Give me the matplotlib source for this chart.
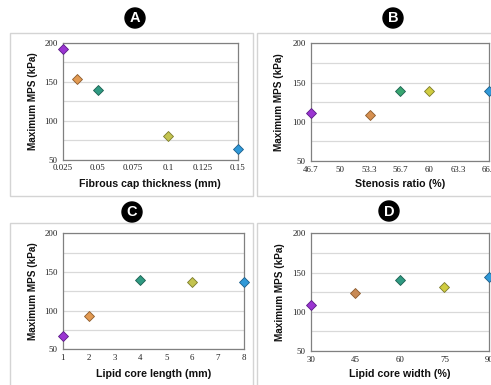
import matplotlib
matplotlib.use("Agg")
import matplotlib.pyplot as plt
from matplotlib.patches import Rectangle, Ellipse
from matplotlib.ticker import FixedLocator

W, H = 491, 385

# ---- data ----
a_x = [0.025, 0.035, 0.05, 0.1, 0.15]
a_y = [192, 153, 139, 80, 63]
b_x = [46.7, 53.3, 56.7, 60, 66.7]
b_y = [111, 109, 139, 139, 139]
c_x = [1, 2, 4, 6, 8]
c_y = [67, 93, 140, 137, 137]
d_x = [30, 45, 60, 75, 90]
d_y = [109, 124, 140, 132, 144]

a_ticks = [0.025, 0.05, 0.075, 0.1, 0.125, 0.15]
a_ticklabels = ["0.025", "0.05", "0.075", "0.1", "0.125", "0.15"]
b_ticks = [46.7, 50, 53.3, 56.7, 60, 63.3, 66.7]
b_ticklabels = ["46.7", "50", "53.3", "56.7", "60", "63.3", "66.7"]
c_ticks = [1, 2, 3, 4, 5, 6, 7, 8]
c_ticklabels = ["1", "2", "3", "4", "5", "6", "7", "8"]
d_ticks = [30, 45, 60, 75, 90]
d_ticklabels = ["30", "45", "60", "75", "90"]

y_major = [50, 100, 150, 200]
y_minor = [75, 125, 175]

xlabels = ["Fibrous cap thickness (mm)", "Stenosis ratio (%)",
           "Lipid core length (mm)", "Lipid core width (%)"]
ylabel = "Maximum MPS (kPa)"
letters = ["A", "B", "C", "D"]

face_A = ["#9b35d2", "#e29a52", "#2f9a82", "#c4c450", "#3099d8"]
edge_A = ["#5b1c86", "#8c5a2c", "#1c5e50", "#7a7a2c", "#1c5e8a"]
face_B = ["#9b35d2", "#d69050", "#38a670", "#d0cc40", "#3099d8"]
face_D = ["#9b35d2", "#c88a55", "#2f9a82", "#d0cc40", "#3099d8"]

fig = plt.figure(figsize=(W / 100, H / 100), dpi=100)
fig.patch.set_facecolor("white")


def rect(l, r, t, b):
    return [l / W, 1 - b / H, (r - l) / W, (b - t) / H]


# outer gray boxes
for (l, r, t, b) in [(10, 253, 33, 196), (257, 500, 33, 196),
                     (10, 253, 223, 392), (257, 500, 223, 392)]:
    fig.add_artist(Rectangle((l / W, 1 - b / H), (r - l) / W, (b - t) / H,
                             transform=fig.transFigure, fill=False,
                             edgecolor="#d4d4d4", linewidth=1.0))

panels = [
    (rect(62.7, 238, 42.7, 159.5), a_x, a_y, a_ticks, a_ticklabels, face_A, 33, 184),
    (rect(310.7, 489, 43.3, 161), b_x, b_y, b_ticks, b_ticklabels, face_B, 279, 184),
    (rect(62.7, 244, 233.3, 349.3), c_x, c_y, c_ticks, c_ticklabels, face_A, 33, 374),
    (rect(310.7, 489, 233.3, 351), d_x, d_y, d_ticks, d_ticklabels, face_D, 280, 374),
]

for i, (r, xs, ys, ticks, tlabels, faces, ylx, xly) in enumerate(panels):
    ax = fig.add_axes(r)
    ax.set_xlim(ticks[0], ticks[-1])
    ax.set_ylim(50, 200)
    ax.set_xticks(ticks)
    ax.set_xticklabels(tlabels)
    ax.set_yticks(y_major)
    ax.set_yticklabels([str(v) for v in y_major])
    ax.yaxis.set_minor_locator(FixedLocator(y_minor))
    ax.grid(True, axis="y", which="both", color="#d9d9d9", linewidth=0.9)
    ax.set_axisbelow(True)
    ax.tick_params(axis="both", which="both", length=0, pad=3.5,
                   labelsize=6.4, labelcolor="#222222")
    for lab in ax.get_xticklabels() + ax.get_yticklabels():
        lab.set_family("Liberation Serif")
    for s in ax.spines.values():
        s.set_color("#808080")
        s.set_linewidth(0.9)
    for xv, yv, fc, ec in zip(xs, ys, faces, edge_A):
        ax.plot([xv], [yv], marker="D", markersize=4.6, markerfacecolor=fc,
                markeredgecolor=ec, markeredgewidth=0.6, linestyle="none",
                clip_on=False, zorder=5)
    # axis labels in figure coords
    bbox = r
    cx = (bbox[0] + bbox[2] / 2)
    fig.text(cx, 1 - xly / H, xlabels[i], ha="center", va="center",
             fontsize=7.7, fontweight="bold", family="Liberation Sans",
             color="#111111")
    cy = bbox[1] + bbox[3] / 2
    fig.text(ylx / W, cy, ylabel, ha="center", va="center", rotation=90,
             fontsize=7.2, fontweight="bold", family="Liberation Sans",
             color="#111111")

# panel letters in black circles
for letter, (x, y) in zip(letters, [(135, 18), (393, 18), (132, 212), (389, 211)]):
    d = 20
    fig.add_artist(Ellipse((x / W, 1 - y / H), d / W, d / H,
                           transform=fig.transFigure, facecolor="black",
                           edgecolor="black"))
    fig.text(x / W, 1 - (y + 0.5) / H, letter, ha="center", va="center",
             fontsize=10.5, fontweight="bold", family="Liberation Sans",
             color="white")

fig.savefig("out.png", dpi=100)
